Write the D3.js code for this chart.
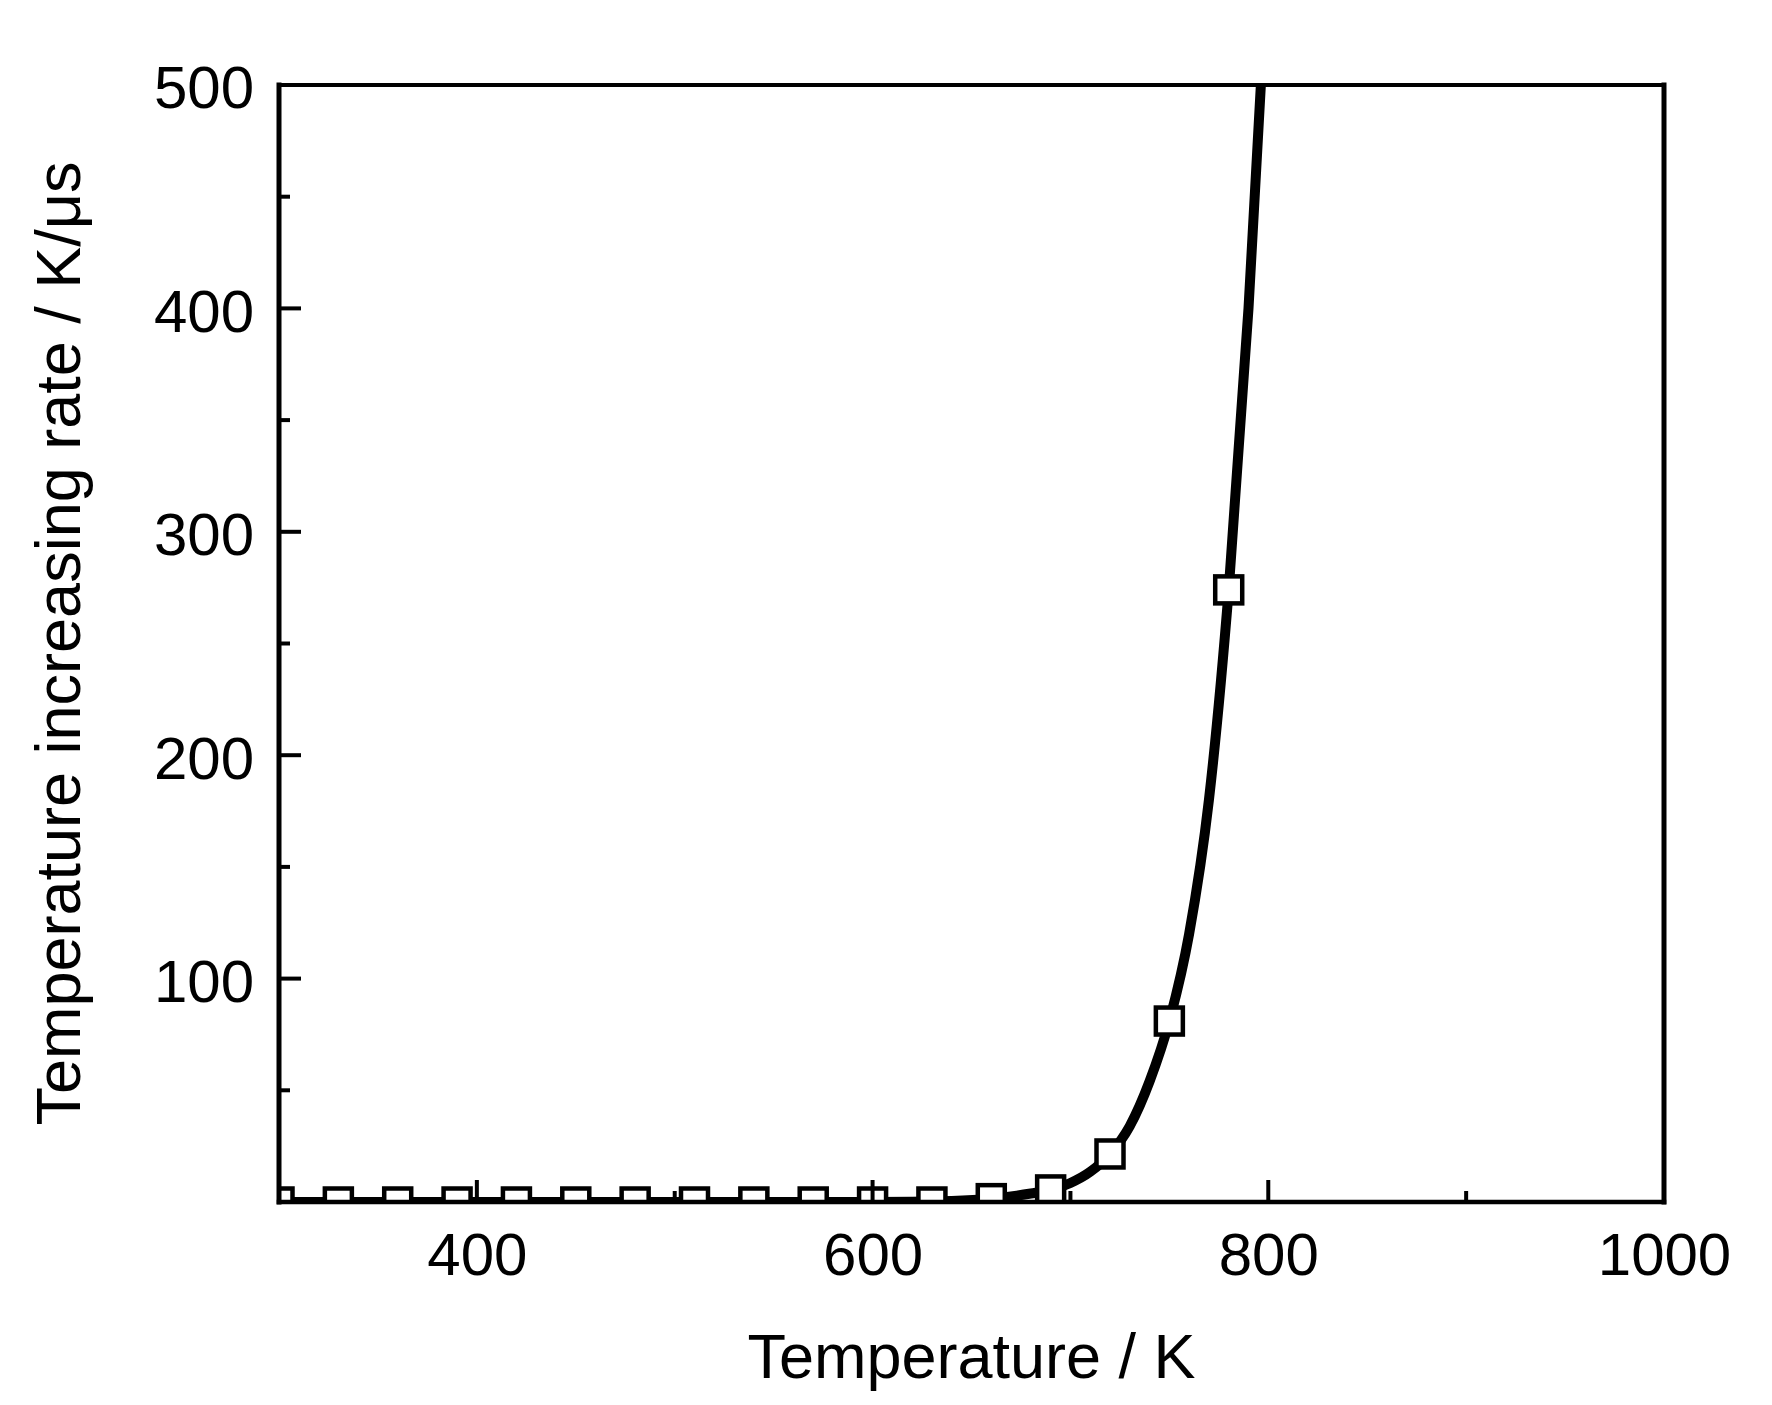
<!DOCTYPE html>
<html>
<head>
<meta charset="utf-8">
<script src="https://cdn.jsdelivr.net/npm/d3@7"></script>
<style>
  html, body { margin: 0; padding: 0; background: #fff; }
  svg { display: block; }
  text { font-family: "Liberation Sans", Arial, sans-serif; fill: #000; }
</style>
</head>
<body>
<script>
// ---- data ----
const curveT = [300, 400, 500, 600, 640, 660, 670, 680, 690, 700, 710, 720, 730, 740, 750, 760, 770, 780, 790, 800];
const curveV = [0, 0, 0, 0, 0.5, 1.5, 2.5, 3.8, 5.4, 8.5, 13.5, 21.5, 34, 54, 81, 120, 180, 274, 400, 560];
const markerT = [300, 330, 360, 390, 420, 450, 480, 510, 540, 570, 600, 630, 660, 690, 720, 750, 780];
const markerV = [0, 0, 0, 0, 0, 0, 0, 0, 0, 0, 0, 0, 1.5, 5.4, 21.5, 81, 274];
const xMajorTicks = [400, 600, 800, 1000];
const xMinorTicks = [500, 700, 900];
const yMajorTicks = [100, 200, 300, 400, 500];
const yMinorTicks = [50, 150, 250, 350, 450];
const xTitle = "Temperature / K";
const yTitle = "Temperature increasing rate / K/\u03bcs";

// ---- layout ----
const W = 1772, H = 1405;
const L = 279, R = 1664, T = 85, B = 1202;

const svg = d3.select("body").append("svg").attr("width", W).attr("height", H);

const x = d3.scaleLinear().domain([300, 1000]).range([L, R]);
const y = d3.scaleLinear().domain([0, 500]).range([B, T]);

svg.append("defs").append("clipPath").attr("id", "plotclip")
  .append("rect").attr("x", L).attr("y", T).attr("width", R - L).attr("height", B - T);

const plot = svg.append("g").attr("clip-path", "url(#plotclip)");

const curveData = curveT.map((t, i) => [t, curveV[i]]);
const line = d3.line().x(d => x(d[0])).y(d => y(d[1])).curve(d3.curveMonotoneX);
plot.append("path").datum(curveData)
  .attr("d", line).attr("fill", "none").attr("stroke", "#000")
  .attr("stroke-width", 10).attr("stroke-linejoin", "round");

const ms = 27;
plot.selectAll("rect.mk").data(markerT.map((t, i) => [t, markerV[i]]))
  .enter().append("rect").attr("class", "mk")
  .attr("x", d => x(d[0]) - ms / 2).attr("y", d => y(d[1]) - ms / 2)
  .attr("width", ms).attr("height", ms)
  .attr("fill", "#fff").attr("stroke", "#000").attr("stroke-width", 4.5);

// ---- axes ----
const xAxis = d3.axisBottom(x).tickValues(xMajorTicks).tickSize(0).tickPadding(0).tickFormat(d3.format("d"));
const gx = svg.append("g").attr("transform", `translate(0,${B})`).call(xAxis);
gx.select(".domain").remove();
gx.selectAll(".tick text").attr("y", 73).attr("dy", null)
  .style("font-size", "60px").style("font-family", "Liberation Sans, Arial, sans-serif").attr("fill", "#000");

const yAxis = d3.axisLeft(y).tickValues(yMajorTicks).tickSize(0).tickPadding(0).tickFormat(d3.format("d"));
const gy = svg.append("g").attr("transform", `translate(${L},0)`).call(yAxis);
gy.select(".domain").remove();
gy.selectAll(".tick text").attr("x", -25).attr("dy", "0.38em")
  .style("font-size", "60px").style("font-family", "Liberation Sans, Arial, sans-serif").attr("fill", "#000");

// inward tick marks
const tk = svg.append("g").attr("stroke", "#000").attr("stroke-width", 4);
tk.selectAll("line.xM").data(xMajorTicks.filter(v => v < 1000)).enter().append("line")
  .attr("x1", d => x(d)).attr("x2", d => x(d)).attr("y1", B).attr("y2", B - 22);
tk.selectAll("line.xm").data(xMinorTicks).enter().append("line")
  .attr("x1", d => x(d)).attr("x2", d => x(d)).attr("y1", B).attr("y2", B - 11);
tk.selectAll("line.yM").data(yMajorTicks.filter(v => v < 500)).enter().append("line")
  .attr("y1", d => y(d)).attr("y2", d => y(d)).attr("x1", L).attr("x2", L + 22);
tk.selectAll("line.ym").data(yMinorTicks).enter().append("line")
  .attr("y1", d => y(d)).attr("y2", d => y(d)).attr("x1", L).attr("x2", L + 11);

// frame
const fr = svg.append("g").attr("stroke", "#000").attr("stroke-linecap", "square");
fr.append("line").attr("x1", L).attr("x2", L).attr("y1", T).attr("y2", B).attr("stroke-width", 5);
fr.append("line").attr("x1", L).attr("x2", R).attr("y1", B).attr("y2", B).attr("stroke-width", 4.5);
fr.append("line").attr("x1", L).attr("x2", R).attr("y1", T).attr("y2", T).attr("stroke-width", 4);
fr.append("line").attr("x1", R).attr("x2", R).attr("y1", T).attr("y2", B).attr("stroke-width", 5);

// titles
svg.append("text").attr("x", (L + R) / 2).attr("y", 1378)
  .attr("text-anchor", "middle").style("font-size", "63px").text(xTitle);
svg.append("text").attr("transform", `translate(80,${(T + B) / 2}) rotate(-90)`)
  .attr("text-anchor", "middle").style("font-size", "63px").text(yTitle);
</script>
</body>
</html>
